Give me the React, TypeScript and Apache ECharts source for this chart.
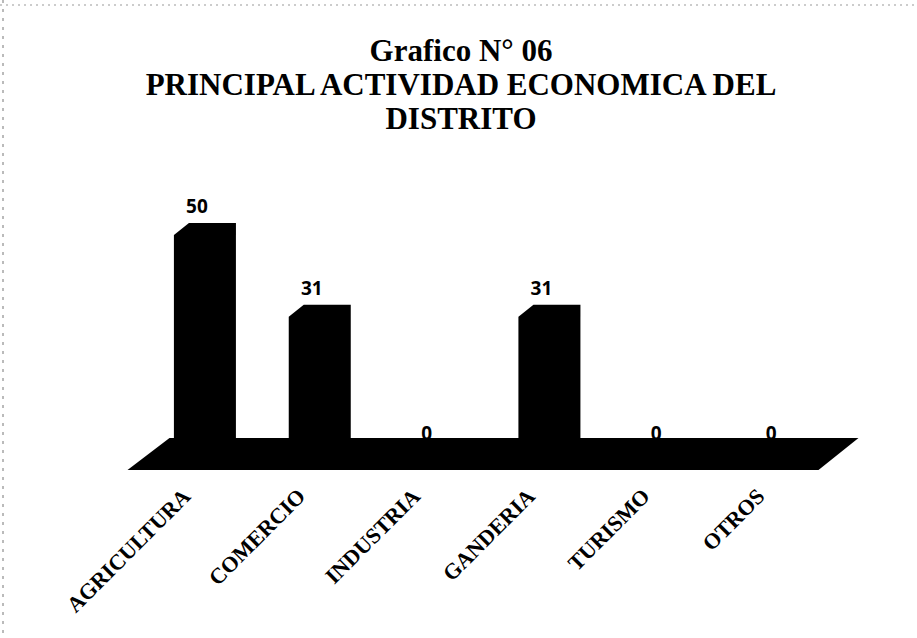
import React, { useEffect, useRef } from "react";
import * as echarts from "echarts";

const categories = ["AGRICULTURA", "COMERCIO", "INDUSTRIA", "GANDERIA", "TURISMO", "OTROS"];
const values = [50, 31, 0, 31, 0, 0];
const titleLines = ["Grafico N° 06", "PRINCIPAL ACTIVIDAD ECONOMICA DEL", "DISTRITO"];

export default function App() {
  const ref = useRef<HTMLDivElement>(null);
  useEffect(() => {
    document.body.style.margin = "0";
    const chart = echarts.init(ref.current!, null, { renderer: "svg" });
    const option: any = {
      animation: false,
      backgroundColor: "#ffffff",
      title: {
        text: titleLines.join("\n"),
        left: 461,
        top: 33,
        padding: 0,
        textAlign: "center",
        textStyle: {
          fontFamily: "Liberation Serif",
          fontWeight: "bold",
          fontSize: 31,
          lineHeight: 34,
          color: "#000",
          align: "center",
        },
      },
      grid: { left: 147.5, right: 80.5, top: 180, bottom: 200 },
      xAxis: {
        type: "category",
        data: categories,
        axisLine: { show: false },
        axisTick: { show: false },
        axisLabel: {
          rotate: 45,
          margin: 36,
          interval: 0,
          padding: [0, 26, 0, 0],
          fontFamily: "Liberation Serif",
          fontWeight: "bold",
          fontSize: 22,
          color: "#000",
        },
      },
      yAxis: { type: "value", min: 0, max: 60, show: false },
      graphic: [
        {
          type: "line",
          shape: { x1: 0, y1: 5, x2: 917, y2: 5 },
          style: { stroke: "#999", lineWidth: 1, lineDash: [2, 4] },
        },
        {
          type: "line",
          shape: { x1: 3, y1: 0, x2: 3, y2: 638 },
          style: { stroke: "#777", lineWidth: 1, lineDash: [3, 6] },
        },
      ],
      series: [
        {
          type: "custom",
          name: "floor",
          data: [[0, 0]],
          z: 1,
          renderItem: (params: any, api: any) => {
            const cs = params.coordSys;
            const y0 = api.coord([0, 0])[1];
            const x0 = cs.x;
            const x1 = cs.x + cs.width;
            return {
              type: "polygon",
              shape: {
                points: [
                  [x0 + 22, y0],
                  [x1 + 22, y0],
                  [x1 - 18, y0 + 32],
                  [x0 - 20, y0 + 32],
                ],
              },
              style: { fill: "#000" },
            };
          },
        },
        {
          type: "custom",
          name: "bars",
          data: values.map((v, i) => [i, v]),
          z: 2,
          renderItem: (params: any, api: any) => {
            const i = api.value(0);
            const v = api.value(1);
            const top = api.coord([i, v]);
            const base = api.coord([i, 0]);
            const bw = api.size([1, 0])[0] * 0.54;
            const cx = top[0];
            const x0 = cx - bw / 2;
            const x1 = cx + bw / 2;
            const children: any[] = [];
            if (v > 0) {
              children.push({
                type: "polygon",
                shape: {
                  points: [
                    [x0, base[1]],
                    [x0, top[1] + 12],
                    [x0 + 15, top[1]],
                    [x1, top[1]],
                    [x1, base[1]],
                  ],
                },
                style: { fill: "#000" },
              });
            }
            children.push({
              type: "text",
              x: cx - 8,
              y: top[1] - (v > 0 ? 17 : 5),
              style: {
                text: String(v),
                fontFamily: "Open Sans",
                fontWeight: "bold",
                fontSize: 19,
                fill: "#000",
                align: "center",
                verticalAlign: "middle",
              },
            });
            return { type: "group", children };
          },
        },
      ],
    };
    chart.setOption(option);
    return () => chart.dispose();
  }, []);
  return <div ref={ref} style={{ width: 917, height: 638 }} />;
}
